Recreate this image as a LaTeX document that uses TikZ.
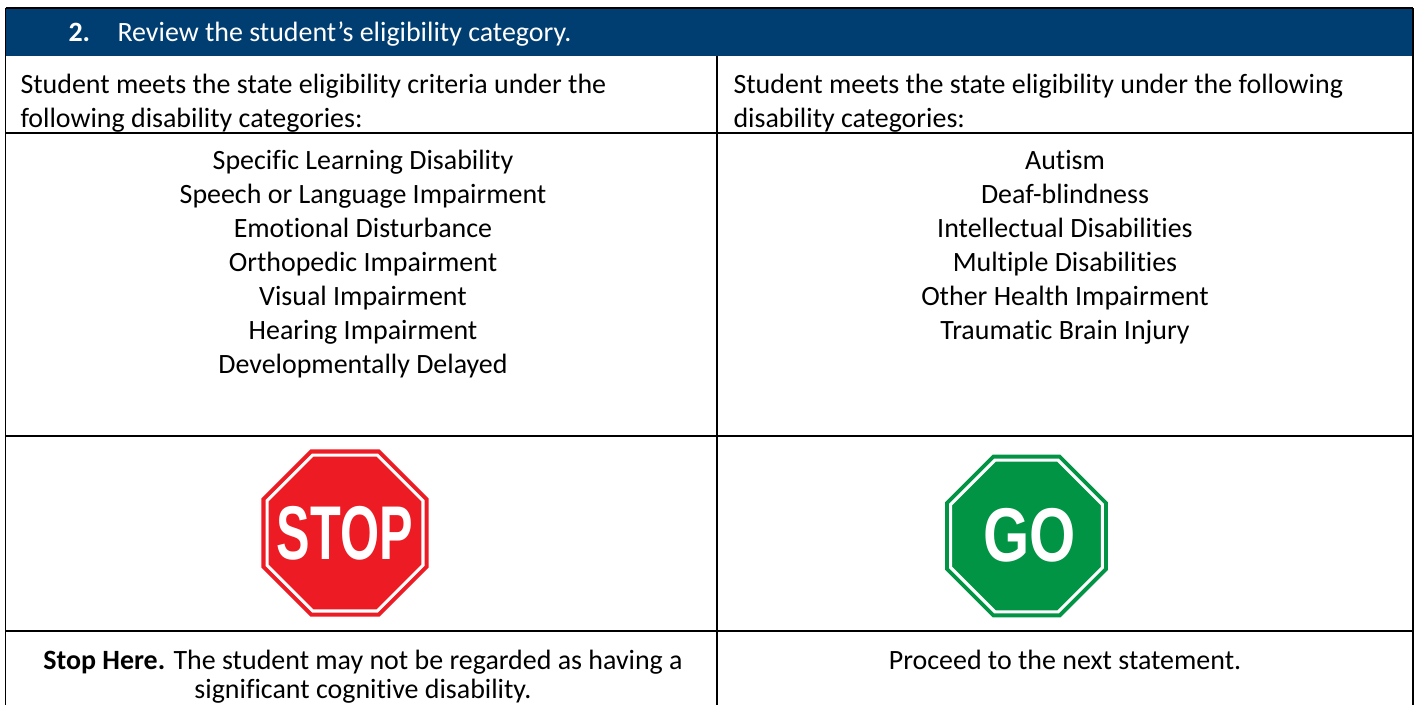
\documentclass[tikz,border=0pt]{standalone}
\usepackage{fontspec}
\setmainfont{Carlito}[Ligatures=NoCommon]
\newfontfamily\signfont{Liberation Sans}
\definecolor{hdrblue}{RGB}{0,62,114}
\definecolor{stopred}{RGB}{237,28,36}
\definecolor{gogreen}{RGB}{0,148,68}
\begin{document}
\begin{tikzpicture}[x=0.3937pt,y=-0.3937pt,
  rule/.style={line width=0.7pt, black},
  bodytext/.style={font=\fontsize{11}{13.4}\selectfont, inner sep=0pt, text=black},
  hdrtext/.style={font=\fontsize{11}{13.4}\selectfont, inner sep=0pt, text=white, anchor=base west},
  signtext/.style={inner sep=0pt, text=white, font=\signfont\bfseries\fontsize{30}{30}\selectfont}]
\useasboundingbox (0,0) rectangle (1418,705);
\fill[white] (0,0) rectangle (1418,705);
% header
\fill[hdrblue] (5.5,8) rectangle (1413,56);
\node[hdrtext] (num) at (68,41) {\bfseries 2.};
\node[hdrtext] (title) at (117,41) {Review the student’s eligibility category.};
% rules
\draw[rule] (5.5,8) -- (1413,8);
\draw[rule] (5.5,8) -- (5.5,705);
\draw[rule] (1413,8) -- (1413,705);
\draw[rule] (717,56) -- (717,705);
\draw[rule] (5.5,133) -- (1413,133);
\draw[rule] (5.5,436) -- (1413,436);
\draw[rule] (5.5,631) -- (1413,631);
% row 1
\node[bodytext, anchor=north west, align=left] (l1) at (20,68.7)
  {\strut Student meets the state eligibility criteria under the\\following disability categories:};
\node[bodytext, anchor=north west, align=left] (r1) at (733,68.7)
  {\strut Student meets the state eligibility under the following\\disability categories:};
% row 2
\node[bodytext, anchor=north, align=center] (l2) at (363,145)
  {\strut Specific Learning Disability\\Speech or Language Impairment\\Emotional Disturbance\\Orthopedic Impairment\\Visual Impairment\\Hearing Impairment\\Developmentally Delayed};
\node[bodytext, anchor=north, align=center] (r2) at (1065,145)
  {\strut Autism\\Deaf-blindness\\Intellectual Disabilities\\Multiple Disabilities\\Other Health Impairment\\Traumatic Brain Injury};
% stop sign
\fill[stopred] (345,533) +(22.5:90.4) -- +(67.5:90.4) -- +(112.5:90.4) -- +(157.5:90.4)
  -- +(202.5:90.4) -- +(247.5:90.4) -- +(292.5:90.4) -- +(337.5:90.4) -- cycle;
\draw[white, line width=1.2pt] (345,533) +(22.5:84.4) -- +(67.5:84.4) -- +(112.5:84.4) -- +(157.5:84.4)
  -- +(202.5:84.4) -- +(247.5:84.4) -- +(292.5:84.4) -- +(337.5:84.4) -- cycle;
\node[signtext] (stop) at (345,533) {\scalebox{0.66}[1]{STOP}};
% go sign
\fill[gogreen] (1026.5,536) +(22.5:88.2) -- +(67.5:88.2) -- +(112.5:88.2) -- +(157.5:88.2)
  -- +(202.5:88.2) -- +(247.5:88.2) -- +(292.5:88.2) -- +(337.5:88.2) -- cycle;
\draw[white, line width=1.2pt] (1026.5,536) +(22.5:82.2) -- +(67.5:82.2) -- +(112.5:82.2) -- +(157.5:82.2)
  -- +(202.5:82.2) -- +(247.5:82.2) -- +(292.5:82.2) -- +(337.5:82.2) -- cycle;
\node[signtext] (go) at (1029.5,535) {\scalebox{0.78}[1]{GO}};
% row 4
\node[bodytext, anchor=north, align=center] (l4) at (363,644.7)
  {\strut\textbf{Stop Here.} The student may not be regarded as having a\\[-2pt]significant cognitive disability.};
\node[bodytext, anchor=north, align=center] (r4) at (1065,644.7)
  {\strut Proceed to the next statement.};
\end{tikzpicture}
\end{document}
